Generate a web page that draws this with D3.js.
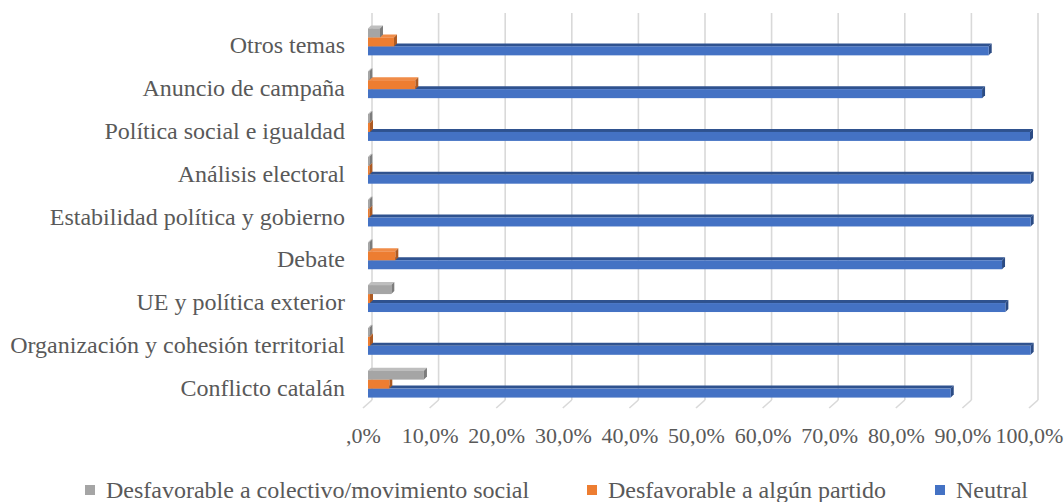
<!DOCTYPE html>
<html>
<head>
<meta charset="utf-8">
<script src="https://cdn.jsdelivr.net/npm/d3@7"></script>
<style>
  html, body { margin: 0; padding: 0; background: #fff; }
  svg { display: block; }
</style>
</head>
<body>
<div id="chart"></div>
<script>
const categories = [
  'Otros temas',
  'Anuncio de campaña',
  'Política social e igualdad',
  'Análisis electoral',
  'Estabilidad política y gobierno',
  'Debate',
  'UE y política exterior',
  'Organización y cohesión territorial',
  'Conflicto catalán'
];
const colectivo = [1.8, 0.2, 0.2, 0.2, 0.2, 0.2, 3.5, 0.2, 8.4];
const partido = [3.9, 7.1, 0.3, 0.2, 0.2, 4.1, 0.3, 0.3, 3.2];
const neutral = [93.2, 92.2, 99.4, 99.5, 99.5, 95.2, 95.7, 99.5, 87.5];

const seriesNames = ['Desfavorable a colectivo/movimiento social', 'Desfavorable a algún partido', 'Neutral'];
const tickValues = [0, 10, 20, 30, 40, 50, 60, 70, 80, 90, 100];
const tickLabels = [',0%', '10,0%', '20,0%', '30,0%', '40,0%', '50,0%', '60,0%', '70,0%', '80,0%', '90,0%', '100,0%'];

const W = 1064, H = 502;
const FONT = "'Liberation Serif', 'Times New Roman', serif";
const TEXT = '#595959';
const DEPTH = 3;

// front, top, side shades per series
const COLORS = [
  { front: '#a5a5a5', top: '#bebebe', side: '#7c7c7c' },
  { front: '#ed7d31', top: '#f08c48', side: '#ad5a22' },
  { front: '#4472c4', top: '#2f528f', side: '#2b4b84' }
];

const values = [colectivo, partido, neutral];

const svg = d3.select('#chart').append('svg')
  .attr('width', W).attr('height', H)
  .attr('viewBox', `0 0 ${W} ${H}`);

const x = d3.scaleLinear().domain([0, 100]).range([368, 1034]);
const y = d3.scaleBand().domain(categories).range([19, 404]).paddingInner(0.3).paddingOuter(0.15);
const y1 = d3.scaleBand().domain(d3.range(3)).range([DEPTH, y.bandwidth()]);

// back wall gridlines + floor ticks
const grid = svg.append('g');
tickValues.forEach((v) => {
  const gx = x(v) + 4;
  grid.append('line')
    .attr('x1', gx).attr('x2', gx).attr('y1', 13).attr('y2', 400)
    .attr('stroke', '#d9d9d9').attr('stroke-width', 1.6);
  grid.append('line')
    .attr('x1', gx).attr('y1', 400).attr('x2', gx - 9).attr('y2', 408)
    .attr('stroke', '#d9d9d9').attr('stroke-width', 1.6);
});

// bars, drawn bottom series first so upper bars cover the lower top faces
const bars = svg.append('g');
categories.forEach((cat, ci) => {
  for (let s = 2; s >= 0; s--) {
    const v = values[s][ci];
    const x0 = x(0), x1 = x(v);
    const top = y(cat) + y1(s);
    const h = y1.bandwidth();
    const c = COLORS[s];
    const g = bars.append('g');
    g.append('polygon')
      .attr('points', [[x0, top], [x0 + DEPTH, top - DEPTH], [x1 + DEPTH, top - DEPTH], [x1, top]].join(' '))
      .attr('fill', c.top);
    g.append('polygon')
      .attr('points', [[x1, top], [x1 + DEPTH, top - DEPTH], [x1 + DEPTH, top + h - DEPTH], [x1, top + h]].join(' '))
      .attr('fill', c.side);
    g.append('rect')
      .attr('x', x0).attr('y', top)
      .attr('width', Math.max(0, x1 - x0)).attr('height', h)
      .attr('fill', c.front);
  }
});

// category labels
svg.append('g')
  .selectAll('text')
  .data(categories)
  .join('text')
  .attr('x', 345)
  .attr('y', (d) => y(d) + y.bandwidth() / 2 + 13)
  .attr('text-anchor', 'end')
  .attr('font-family', FONT)
  .attr('font-size', '24px')
  .attr('fill', TEXT)
  .text((d) => d);

// x axis labels, sitting on the front edge of the floor
const xAxis = d3.axisBottom(x)
  .tickValues(tickValues)
  .tickFormat((d, i) => tickLabels[i])
  .tickSize(0)
  .tickPadding(0);

const ax = svg.append('g')
  .attr('transform', 'translate(-5,427)')
  .call(xAxis);
ax.select('.domain').remove();
ax.selectAll('text')
  .attr('font-family', FONT)
  .attr('font-size', '22px')
  .attr('fill', TEXT)
  .attr('dy', '0.71em');

// legend
const legendX = [85, 587, 935];
const legend = svg.append('g')
  .selectAll('g')
  .data(seriesNames)
  .join('g')
  .attr('transform', (d, i) => `translate(${legendX[i]},490)`);

legend.append('rect')
  .attr('x', 0).attr('y', -5)
  .attr('width', 10).attr('height', 10)
  .attr('fill', (d, i) => COLORS[i].front);

legend.append('text')
  .attr('x', 21).attr('y', 8)
  .attr('font-family', FONT)
  .attr('font-size', '24px')
  .attr('fill', TEXT)
  .text((d) => d);
</script>
</body>
</html>
